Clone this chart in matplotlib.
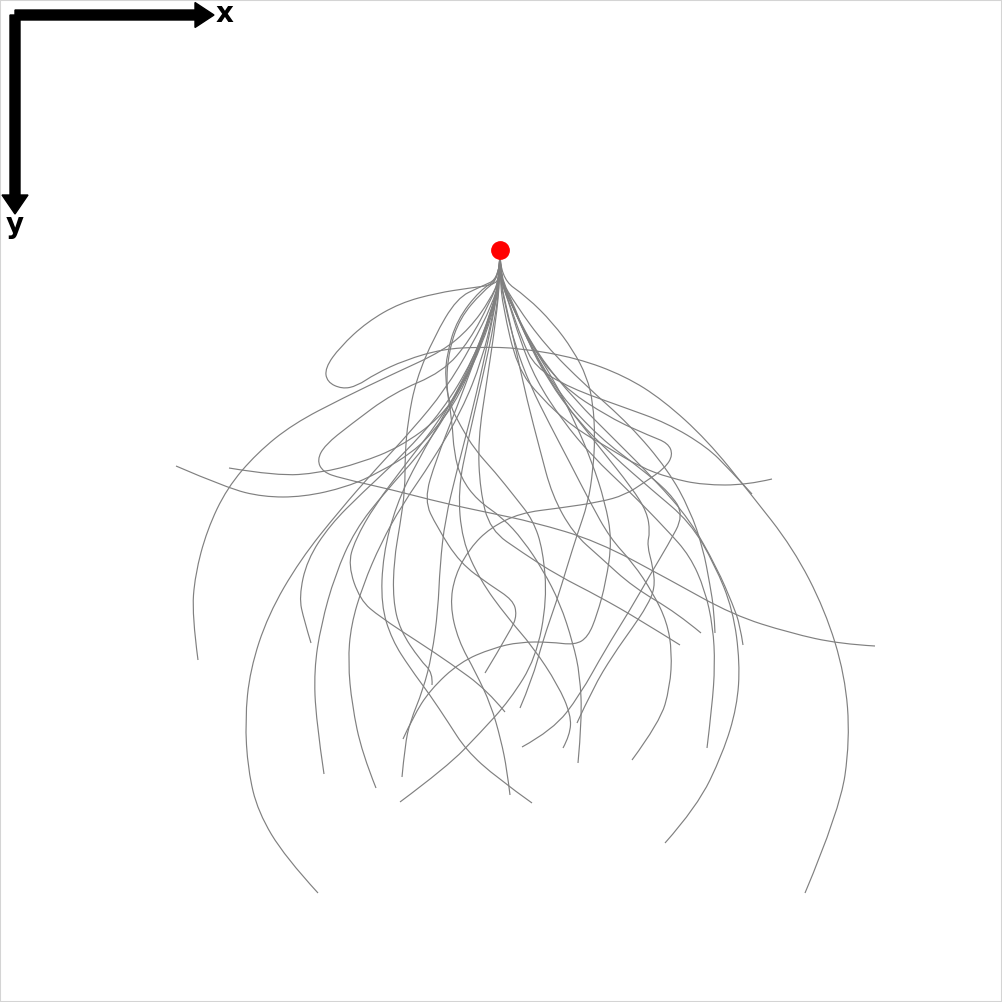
import matplotlib
matplotlib.use("Agg")
import matplotlib.pyplot as plt
import numpy as np
from matplotlib.path import Path
from matplotlib.patches import PathPatch, Rectangle

# all coordinates are picture pixels: x to the right, y downwards
size = 1002
start = (500, 250)
stem_top = (500, 252)

c01 = [(500, 278), (493, 285), (470, 288), (437, 293), (400, 303), (367, 322), (340, 347), (325, 368),
       (327, 382), (342, 389), (357, 386), (375, 374), (405, 360), (443, 349), (480, 347), (520, 348),
       (577, 358), (625, 376), (663, 400), (707, 440), (750, 493), (793, 548), (825, 610), (845, 675),
       (850, 740), (840, 810), (805, 893)]
c02 = [(500, 278), (495, 300), (480, 345), (460, 395), (435, 430), (413, 452), (380, 472), (347, 487),
       (303, 497), (263, 497), (227, 488), (176, 466)]
c03 = [(500, 278), (495, 305), (482, 345), (463, 385), (440, 418), (400, 447), (360, 463), (320, 473),
       (277, 476), (229, 468)]
c04 = [(500, 278), (490, 300), (470, 328), (443, 351), (393, 374), (343, 398), (293, 424), (257, 453),
       (227, 488), (207, 530), (195, 575), (192, 615), (198, 660)]
c05 = [(500, 278), (492, 305), (472, 345), (445, 390), (412, 430), (375, 470), (340, 510), (300, 560),
       (268, 615), (250, 670), (245, 720), (248, 770), (258, 812), (285, 857), (318, 893)]
c06 = [(500, 278), (494, 305), (478, 350), (455, 400), (425, 448), (385, 492), (355, 530), (335, 575),
       (321, 625), (314, 670), (316, 720), (324, 774)]
c07 = [(500, 278), (492, 310), (473, 360), (443, 410), (403, 455), (362, 493), (330, 525), (307, 560),
       (299, 597), (304, 620), (311, 643)]
c08 = [(500, 278), (494, 310), (482, 360), (462, 410), (433, 460), (402, 505), (381, 543), (363, 585),
       (351, 625), (348, 662), (352, 705), (362, 753), (376, 788)]
c09 = [(500, 278), (480, 290), (457, 320), (447, 353), (445, 380), (450, 405), (460, 425), (475, 450),
       (495, 472), (515, 497), (533, 520), (543, 550), (547, 600), (536, 658), (510, 700), (480, 733),
       (447, 767), (400, 802)]
c10 = [(500, 278), (527, 297), (553, 323), (573, 350), (587, 377), (593, 403), (595, 437), (593, 470),
       (588, 503), (577, 535), (567, 567), (557, 600), (543, 640), (532, 680), (520, 708)]
c11 = [(500, 278), (482, 292), (460, 318), (449, 350), (446, 385), (452, 420), (454, 453), (461, 478),
       (477, 500), (503, 518), (523, 540), (543, 570), (560, 603), (573, 643), (580, 675), (582, 720),
       (578, 763)]
c12 = [(500, 278), (491, 312), (472, 362), (446, 412), (418, 460), (396, 505), (383, 555), (381, 605),
       (392, 640), (410, 668), (430, 695), (448, 722), (466, 750), (497, 778), (532, 803)]
c13 = [(500, 278), (510, 300), (528, 340), (560, 385), (610, 418), (650, 436), (668, 443), (673, 455),
       (665, 468), (645, 482), (625, 495), (600, 502), (560, 508), (520, 513), (490, 528), (470, 548),
       (455, 575), (450, 605), (458, 640), (476, 673), (491, 705), (501, 740), (507, 770), (510, 795)]
c14 = [(500, 278), (512, 305), (532, 350), (562, 400), (600, 448), (632, 488), (647, 512), (650, 532),
       (647, 545), (653, 567), (655, 588), (647, 606), (633, 627), (613, 655), (593, 688), (577, 723)]
c15 = [(500, 278), (512, 300), (527, 340), (548, 380), (577, 420), (612, 455), (652, 490), (690, 522),
       (715, 565), (733, 610), (740, 663), (737, 707), (723, 753), (697, 807), (665, 843)]
c16 = [(500, 278), (508, 300), (520, 340), (536, 380), (562, 420), (592, 456), (630, 492), (667, 530),
       (690, 556), (705, 590), (713, 627), (715, 665), (712, 707), (707, 748)]
c17 = [(500, 278), (505, 305), (515, 345), (530, 385), (550, 425), (570, 463), (590, 502), (610, 538),
       (633, 563), (653, 593), (667, 622), (672, 652), (670, 687), (660, 722), (632, 760)]
c18 = [(500, 278), (490, 302), (470, 340), (443, 372), (393, 393), (350, 425), (325, 445), (317, 460),
       (323, 472), (340, 478), (393, 490), (443, 503), (490, 513), (533, 522), (597, 541), (670, 580),
       (733, 615), (790, 633), (840, 644), (875, 646)]
c19 = [(500, 278), (503, 307), (517, 367), (540, 397), (573, 427), (607, 447), (640, 467), (670, 478),
       (703, 485), (747, 485), (772, 479)]
c20 = [(500, 278), (510, 305), (522, 340), (535, 367), (570, 388), (623, 407), (667, 423), (707, 447),
       (730, 470), (752, 494)]
c21 = [(500, 278), (507, 310), (516, 350), (527, 400), (540, 450), (552, 495), (573, 533), (600, 557),
       (633, 587), (677, 613), (701, 633)]
c22 = [(500, 278), (496, 320), (487, 380), (478, 440), (480, 490), (490, 530), (523, 553), (557, 575),
       (600, 597), (640, 620), (680, 645)]
c23 = [(500, 278), (514, 310), (538, 355), (575, 400), (615, 440), (655, 480), (690, 520), (717, 568),
       (733, 605), (740, 625), (743, 645)]
c24 = [(500, 278), (510, 302), (530, 342), (555, 382), (575, 422), (592, 462), (605, 502), (612, 540),
       (606, 582), (597, 615), (588, 637), (575, 645), (550, 642), (520, 642), (493, 648), (460, 662),
       (430, 690), (413, 717), (403, 739)]
c25 = [(500, 278), (494, 312), (483, 365), (470, 420), (457, 470), (445, 520), (440, 565), (438, 610),
       (432, 655), (423, 690), (410, 722), (405, 745), (402, 777)]
c26 = [(500, 278), (492, 312), (474, 362), (455, 412), (436, 460), (424, 500), (437, 527), (460, 563),
       (490, 585), (513, 600), (517, 615), (511, 630), (485, 673)]
c27 = [(500, 278), (480, 287), (457, 298), (434, 337), (416, 380), (408, 420), (405, 455), (405, 490),
       (400, 525), (394, 560), (393, 600), (400, 630), (420, 660), (433, 673), (432, 685)]
c28 = [(500, 278), (510, 300), (530, 345), (560, 395), (600, 438), (640, 468), (670, 493), (684, 515),
       (668, 545), (650, 575), (630, 610), (605, 650), (580, 695), (553, 730), (522, 747)]
c29 = [(500, 278), (495, 320), (482, 380), (468, 440), (458, 490), (462, 540), (480, 580), (507, 617),
       (533, 647), (558, 685), (571, 715), (570, 735), (563, 748)]
c30 = [(500, 278), (516, 305), (545, 345), (585, 385), (630, 425), (668, 470), (690, 510), (703, 548),
       (710, 585), (714, 610), (715, 633)]
c31 = [(500, 278), (490, 320), (470, 370), (440, 420), (405, 465), (375, 505), (355, 540), (348, 565),
       (360, 600), (380, 617), (420, 643), (450, 663), (487, 690), (505, 712)]

paths = [c01, c02, c03, c04, c05, c06, c07, c08, c09, c10, c11, c12, c13, c14, c15, c16,
         c17, c18, c19, c20, c21, c22, c23, c24, c25, c26, c27, c28, c29, c30, c31]

# axis arrows: origin, length, labels
arrow_origin = (15, 15)
arrow_length = 199
axis_labels = ["x", "y"]


def smooth_path(points):
    """Quadratic B-spline style path through the midpoints of the control points."""
    pts = np.asarray(points, dtype=float)
    verts = [pts[0]]
    codes = [Path.MOVETO]
    if len(pts) == 2:
        verts.append(pts[1])
        codes.append(Path.LINETO)
        return Path(verts, codes)
    for i in range(1, len(pts) - 1):
        end = pts[-1] if i == len(pts) - 2 else (pts[i] + pts[i + 1]) / 2
        verts += [pts[i], end]
        codes += [Path.CURVE3, Path.CURVE3]
    return Path(verts, codes)


fig = plt.figure(figsize=(size / 100, size / 100), dpi=100)
ax = fig.add_axes([0, 0, 1, 1])
ax.set_xlim(0, size)
ax.set_ylim(size, 0)
ax.set_aspect("equal")
ax.axis("off")

for pts in paths:
    path = smooth_path([stem_top] + pts)
    ax.add_patch(PathPatch(path, facecolor="none", edgecolor="#808080", linewidth=0.85))

ax.plot(*start, "o", color="red", markersize=12.5, zorder=5)

# axis arrows in the top-left corner
ox, oy = arrow_origin
ax.arrow(ox, oy, arrow_length, 0, width=10, head_width=25, head_length=19,
         length_includes_head=True, color="black", zorder=6)
ax.arrow(ox, oy, 0, arrow_length, width=10, head_width=26, head_length=19,
         length_includes_head=True, color="black", zorder=6)
ax.text(ox + arrow_length + 11, oy - 1, axis_labels[0], fontsize=20, fontweight="bold",
        ha="center", va="center")
ax.text(ox, oy + arrow_length + 11, axis_labels[1], fontsize=20, fontweight="bold",
        ha="center", va="center")

# thin light frame round the picture
fig.patches.append(Rectangle((0, 0), 1, 1, transform=fig.transFigure, fill=False,
                             edgecolor="#d4d4d4", linewidth=1.5))

fig.savefig("out.png", dpi=100)
